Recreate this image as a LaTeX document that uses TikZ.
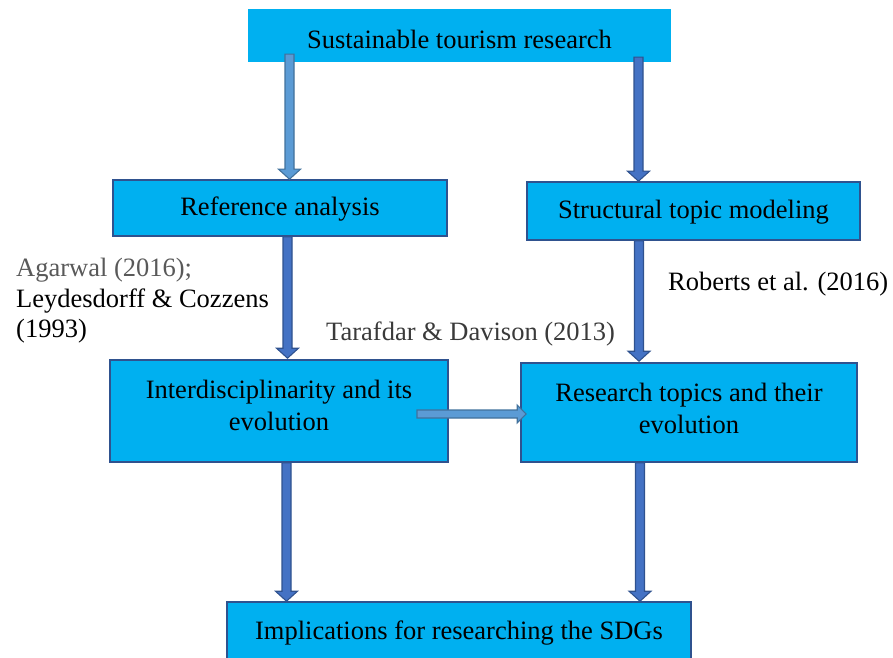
\documentclass[tikz,border=0pt]{standalone}
\usepackage{fontspec}
\setmainfont{LiberationSerif}[Extension=.ttf, UprightFont=*-Regular, BoldFont=*-Bold, ItalicFont=*-Italic, BoldItalicFont=*-BoldItalic]
\usetikzlibrary{calc}
\definecolor{boxfill}{HTML}{00B0F0}
\definecolor{boxline}{HTML}{2F528F}
\definecolor{darkfill}{HTML}{4472C4}
\definecolor{darkline}{HTML}{2F528F}
\definecolor{lightfill}{HTML}{5B9BD5}
\definecolor{lightline}{HTML}{41719C}
\definecolor{graytext}{HTML}{595959}
\definecolor{darkgraytext}{HTML}{3A3A3A}
\newcommand\blkdown[3]{\filldraw[#1] let \p1=(#2), \p2=(#3) in
  (\x1-4.5pt,\y1) -- (\x1-4.5pt,\y2+10pt) -- (\x1-11pt,\y2+10pt) -- (\x1,\y2)
  -- (\x1+11pt,\y2+10pt) -- (\x1+4.5pt,\y2+10pt) -- (\x1+4.5pt,\y1) -- cycle;}
\newcommand\blkright[3]{\filldraw[#1] let \p1=(#2), \p2=(#3) in
  (\x1,\y1+4pt) -- (\x2-9pt,\y1+4pt) -- (\x2-9pt,\y1+9pt) -- (\x2,\y1)
  -- (\x2-9pt,\y1-9pt) -- (\x2-9pt,\y1-4pt) -- (\x1,\y1-4pt) -- cycle;}
\begin{document}
\begin{tikzpicture}[x=1pt,y=1pt,
  box/.style={rectangle, draw=boxline, line width=1.6pt, fill=boxfill, inner sep=0pt},
  topbox/.style={rectangle, fill=boxfill, inner sep=0pt},
  txt/.style={font=\fontsize{26.5}{32}\selectfont, align=center, inner sep=0pt},
  lbl/.style={font=\fontsize{26.5}{30.5}\selectfont, align=left, inner sep=0pt, anchor=west},
  darkarrow/.style={fill=darkfill, draw=darkline, line width=1.1pt, line join=miter},
  lightarrow/.style={fill=lightfill, draw=lightline, line width=1.1pt, line join=miter}]
\useasboundingbox (0,0) rectangle (893,657);
\clip (0,0) rectangle (893,657);
% boxes
\node[topbox, minimum width=423, minimum height=53] (top) at (459.5,621.5) {};
\node[box, minimum width=334, minimum height=56] (ra) at (280,449) {};
\node[box, minimum width=333, minimum height=58] (stm) at (693.5,446) {};
\node[box, minimum width=338, minimum height=102] (inter) at (279,246) {};
\node[box, minimum width=336, minimum height=99] (rt) at (689,244.5) {};
\node[box, minimum width=464, minimum height=70] (impl) at (459,20) {};
% texts
\node[txt] (ttop) at (459.5,618) {Sustainable tourism research};
\node[txt] (tra) at (280,448) {Reference analysis};
\node[txt] (tstm) at (693.5,445) {Structural topic modeling};
\node[txt] (tinter) at (279,252) {Interdisciplinarity and its\\evolution};
\node[txt] (trt) at (689,249) {Research topics and their\\evolution};
\node[txt] (timpl) at (459,24) {Implications for researching the SDGs};
\node[lbl] (lagar) at (16,356) {\textcolor{graytext}{Agarwal (2016);}\\Leydesdorff \& Cozzens\\(1993)};
\node[lbl] (lrob) at (668,373) {Roberts et al. (2016)};
\node[lbl, text=darkgraytext] (ltar) at (326,323) {Tarafdar \& Davison (2013)};
% arrow x positions
\coordinate (a1) at (289.5,0);
\coordinate (a2) at (638.5,0);
\coordinate (a3) at (287.5,0);
\coordinate (a4) at (639,0);
\coordinate (a5) at (286.5,0);
\coordinate (a6) at (640,0);
\coordinate (h1) at (417,243);
% arrows
\blkdown{lightarrow}{$(a1 |- top.south)+(0,8)$}{a1 |- ra.north}
\blkdown{darkarrow}{$(a2 |- top.south)+(0,5)$}{a2 |- stm.north}
\blkdown{darkarrow}{a3 |- ra.south}{$(a3 |- inter.north)+(0,1)$}
\blkdown{darkarrow}{a4 |- stm.south}{$(a4 |- rt.north)+(0,1)$}
\blkdown{darkarrow}{a5 |- inter.south}{a5 |- impl.north}
\blkdown{darkarrow}{a6 |- rt.south}{a6 |- impl.north}
\blkright{lightarrow}{h1}{$(h1 -| rt.west)+(6,0)$}
\end{tikzpicture}
\end{document}
